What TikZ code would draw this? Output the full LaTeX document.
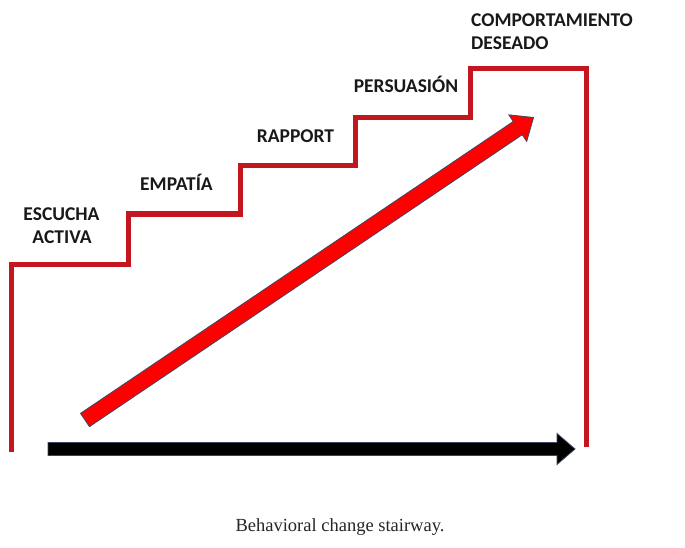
\documentclass[tikz,border=0pt]{standalone}
\usepackage{fontspec}
\newfontfamily\labfont{Carlito}
\newfontfamily\capfont{Liberation Serif}
\definecolor{stairred}{RGB}{196,22,30}
\definecolor{arrowedge}{RGB}{60,70,100}
\tikzset{
  lab/.style={font=\labfont\bfseries\fontsize{19.5}{23}\selectfont, text=black!90, inner sep=0pt},
  stair/.style={draw=stairred, line width=5pt, line join=miter},
  bigarrow/.style={line width=0.8pt, draw=arrowedge, line join=miter}
}
\begin{document}
\begin{tikzpicture}[x=1pt,y=-1pt]
\useasboundingbox (0,0) rectangle (685,548);
\fill[white] (0,0) rectangle (685,548);
% stairs
\draw[stair] (11,452) -- (11,264) -- (128,264) -- (128,214) -- (240,214) -- (240,166)
  -- (355,166) -- (355,118) -- (470,118) -- (470,69) -- (586,69) -- (586,447);
% coordinates for arrows
\coordinate (rtail) at (85,420);
\coordinate (btail) at (48,449);
% red diagonal arrow
\begin{scope}[shift={(rtail)}, rotate=34]
  \filldraw[bigarrow, fill=red] (0,-8) -- (522,-8) -- (522,-16) -- (541,0) -- (522,16) -- (522,8) -- (0,8) -- cycle;
\end{scope}
% black horizontal arrow
\begin{scope}[shift={(btail)}]
  \filldraw[bigarrow, fill=black] (0,-6.5) -- (509,-6.5) -- (509,-15.5) -- (527,0) -- (509,15.5) -- (509,6.5) -- (0,6.5) -- cycle;
\end{scope}
% labels
\node[lab, anchor=base] (esc) at (61.5,220) {ESCUCHA};
\node[lab, anchor=base] (act) at (62,243) {ACTIVA};
\node[lab, anchor=base] (emp) at (176.5,191) {EMPATÍA};
\node[lab, anchor=base] (rap) at (295.5,143) {RAPPORT};
\node[lab, anchor=base] (per) at (406,93) {PERSUASIÓN};
\node[lab, anchor=base west] (com) at (471,27) {COMPORTAMIENTO};
\node[lab, anchor=base west] (des) at (471,50) {DESEADO};
\node[font=\capfont\fontsize{18.5}{22}\selectfont, text=black!85, inner sep=0pt, anchor=base] (cap) at (340,531) {Behavioral change stairway.};
\end{tikzpicture}
\end{document}
